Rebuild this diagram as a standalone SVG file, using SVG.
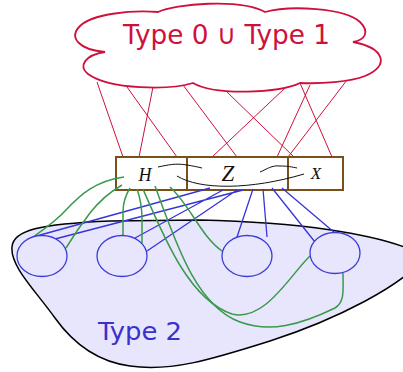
<svg xmlns="http://www.w3.org/2000/svg" width="403" height="372" viewBox="0 0 403 372">
<style>
.red{stroke:#d0103c;stroke-width:1;fill:none}
.blue{stroke:#3535d8;stroke-width:1.3;fill:none}
.green{stroke:#3a994a;stroke-width:1.5;fill:none}
.blk{stroke:#111;stroke-width:1;fill:none}
.box{fill:#fff;stroke:#7a4f18;stroke-width:2}
.ell{fill:#e8e6fc;stroke:#3c3cd8;stroke-width:1.3}
.sans{font-family:"DejaVu Sans",sans-serif}
.math{font-family:"Liberation Serif",serif;font-style:italic;fill:#111}
</style>
<rect width="403" height="372" fill="#fff"/>
<g id="type2">
<path d="M12,247 C13,230 40,224 110,221 L200,220 C290,222 380,232 425,256 C405,285 335,320 270,341 C210,360 170,372 130,366 C100,362 75,346 55,318 C35,290 10,266 12,247 Z" fill="#e8e6fc" stroke="#000" stroke-width="1.5"/>
<text class="sans" x="98" y="340" font-size="25" textLength="84" lengthAdjust="spacingAndGlyphs" fill="#3a30cc">Type 2</text>
</g>
<g id="connectors">
<path class="red" d="M97,82 L123,157 M127,87 L177,157 M153,87 L139,157 M183,85 L237,157 M227,92 L294,157 M285,88 L212,157 M300,83 L332,157 M310,85 L277,157 M347,80 L288,157"/>
</g>
<g id="cloud">
<path d="M105,52 C80,50 68,38 80,26 C92,14 130,10 158,12 C175,4 240,-2 265,12 C290,5 345,8 360,22 C370,32 365,40 353,42 C385,48 390,66 365,76 C350,82 320,84 300,83 C280,93 215,96 193,83 C170,90 110,90 88,74 C78,66 85,55 105,52 Z" fill="#fff" stroke="#d0103c" stroke-width="1.8"/>
<text class="sans" x="123" y="43.5" font-size="27" textLength="207" lengthAdjust="spacingAndGlyphs" fill="#d0103c">Type 0 ∪ Type 1</text>
</g>
<g id="box-H">
<rect class="box" x="116" y="157" width="71" height="33"/>
<text class="math" x="145" y="181" font-size="18" text-anchor="middle">H</text>
</g>
<g id="box-X">
<rect class="box" x="288" y="157" width="55" height="33"/>
<text class="math" x="316" y="179" font-size="17" text-anchor="middle">X</text>
</g>
<g id="box-Z">
<rect class="box" x="187" y="157" width="101" height="33" stroke="#663a00" stroke-width="2.4"/>
<text class="math" x="228" y="181" font-size="23" text-anchor="middle">Z</text>
</g>
<g id="connectors2">
<path class="blk" d="M158,167 C168,165 175,163 187,165 C193,166 198,167 202,168"/>
<path class="blk" d="M260,172 C267,169 272,165 280,166 C288,166 292,167 297,168"/>
<path class="blk" d="M177,176 C200,190 250,190 304,174"/>
<path class="blue" d="M33,237 L210,188 M55,239 L243,190 M135,238 L223,190 M147,251 L237,190 M237,237 L253,189 M267,237 L263,189 M315,242 L272,188 M335,233 L282,188"/>
<path class="green" d="M124,177 C95,181 80,195 66,210 C55,222 40,232 33,237"/>
<path class="green" d="M122,185 C110,192 100,200 90,213 C80,226 72,238 66,248"/>
<path class="green" d="M130,188 C125,196 123,203 123,212 L123,236"/>
<path class="green" d="M137,189 C141,200 142,210 142,220 L142,243"/>
<path class="green" d="M170,187 C190,205 200,235 222,251"/>
<path class="green" d="M143,189 C165,240 190,300 232,314 C265,322 290,275 310,256"/>
<path class="green" d="M155,186 C175,240 195,305 240,322 C270,333 300,325 335,308 C345,302 343,290 343,273"/>
</g>
<g id="e1"><ellipse class="ell" cx="42" cy="256" rx="25" ry="20.5"/></g>
<g id="e2"><ellipse class="ell" cx="122" cy="256" rx="25" ry="20.5"/></g>
<g id="e3"><ellipse class="ell" cx="247" cy="256" rx="25" ry="20.5"/></g>
<g id="e4"><ellipse class="ell" cx="335" cy="253" rx="25" ry="20.5"/></g>
</svg>
